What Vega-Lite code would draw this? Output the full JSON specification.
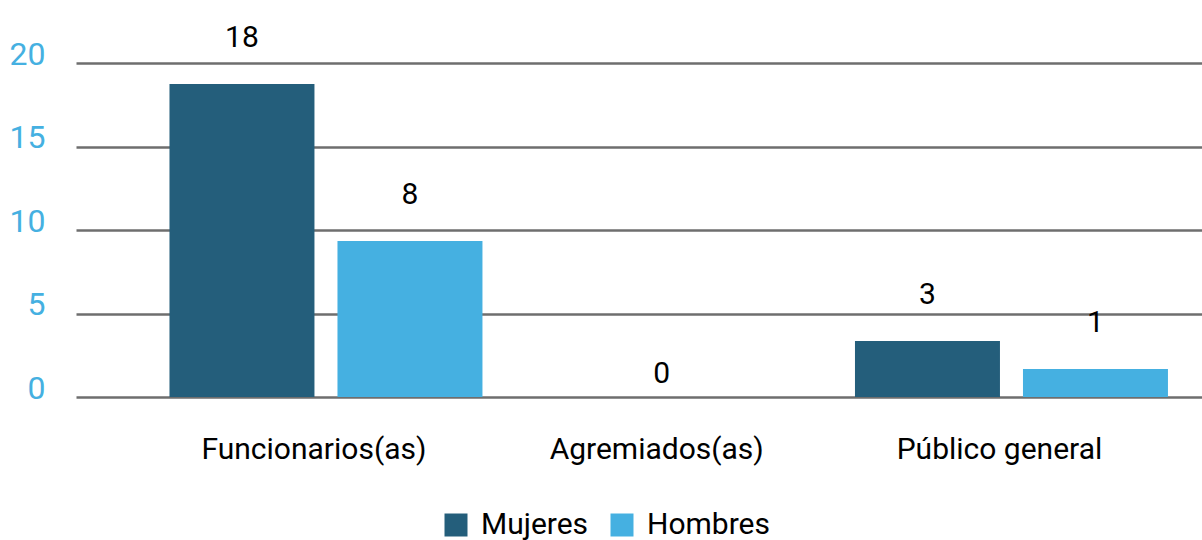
{
  "$schema": "https://vega.github.io/schema/vega-lite/v6.json",
  "width": 1126,
  "height": 334,
  "autosize": {"type": "none"},
  "padding": {"left": 76, "top": 63, "right": 0, "bottom": 143},
  "config": {
    "view": {"stroke": null},
    "font": "Roboto",
    "axis": {"labelFont": "Roboto", "titleFont": "Roboto"},
    "legend": {"labelFont": "Roboto"}
  },
  "data": {
    "values": [
      {"category": "Funcionarios(as)", "series": "Mujeres", "value": 18.74, "label": "18"},
      {"category": "Funcionarios(as)", "series": "Hombres", "value": 9.34, "label": "8"},
      {"category": "Agremiados(as)", "series": "Mujeres", "value": 0, "label": "0"},
      {"category": "Agremiados(as)", "series": "Hombres", "value": 0, "label": "0"},
      {"category": "Público general", "series": "Mujeres", "value": 3.35, "label": "3"},
      {"category": "Público general", "series": "Hombres", "value": 1.68, "label": "1"}
    ]
  },
  "encoding": {
    "x": {
      "field": "category",
      "type": "nominal",
      "sort": ["Funcionarios(as)", "Agremiados(as)", "Público general"],
      "scale": {"paddingInner": 0, "paddingOuter": 0.1426, "align": 0.804},
      "axis": {
        "title": null,
        "labelAngle": 0,
        "labelFontSize": 30,
        "labelLimit": 0,
        "labelColor": "#000000",
        "labelPadding": 37,
        "labelOffset": -12,
        "ticks": false,
        "domain": false,
        "grid": false
      }
    },
    "y": {
      "field": "value",
      "type": "quantitative",
      "scale": {"domain": [0, 20], "nice": false},
      "axis": {
        "title": null,
        "values": [0, 5, 10, 15, 20],
        "labelFontSize": 32,
        "labelColor": "#45B0E1",
        "labelPadding": 31,
        "labelOffset": -9,
        "ticks": false,
        "domain": false,
        "grid": true,
        "gridColor": "#6E6E6E",
        "gridWidth": 2.5
      }
    }
  },
  "layer": [
    {
      "mark": {"type": "bar"},
      "encoding": {
        "xOffset": {
          "field": "series",
          "type": "nominal",
          "sort": ["Mujeres", "Hombres"],
          "scale": {"paddingInner": 0.137, "paddingOuter": 0.0886}
        },
        "color": {
          "field": "series",
          "type": "nominal",
          "sort": ["Mujeres", "Hombres"],
          "scale": {"domain": ["Mujeres", "Hombres"], "range": ["#245E7B", "#45B0E1"]},
          "legend": {
            "title": null,
            "orient": "none",
            "direction": "horizontal",
            "legendX": 365,
            "legendY": 447,
            "symbolType": "square",
            "symbolSize": 529,
            "symbolStrokeWidth": 0,
            "labelFontSize": 30,
            "labelColor": "#000000",
            "labelOffset": 10,
            "columnPadding": 18
          }
        }
      }
    },
    {
      "transform": [{"filter": "datum.value > 0"}],
      "mark": {"type": "text", "fontSize": 30, "color": "#000000", "baseline": "middle", "dy": -46},
      "encoding": {
        "xOffset": {
          "field": "series",
          "type": "nominal",
          "sort": ["Mujeres", "Hombres"],
          "scale": {"paddingInner": 0.137, "paddingOuter": 0.0886}
        },
        "text": {"field": "label"}
      }
    },
    {
      "transform": [{"filter": "datum.value == 0 && datum.series == 'Mujeres'"}],
      "mark": {"type": "text", "fontSize": 30, "color": "#000000", "baseline": "middle", "dy": -23, "dx": -7},
      "encoding": {
        "text": {"field": "label"}
      }
    }
  ]
}
